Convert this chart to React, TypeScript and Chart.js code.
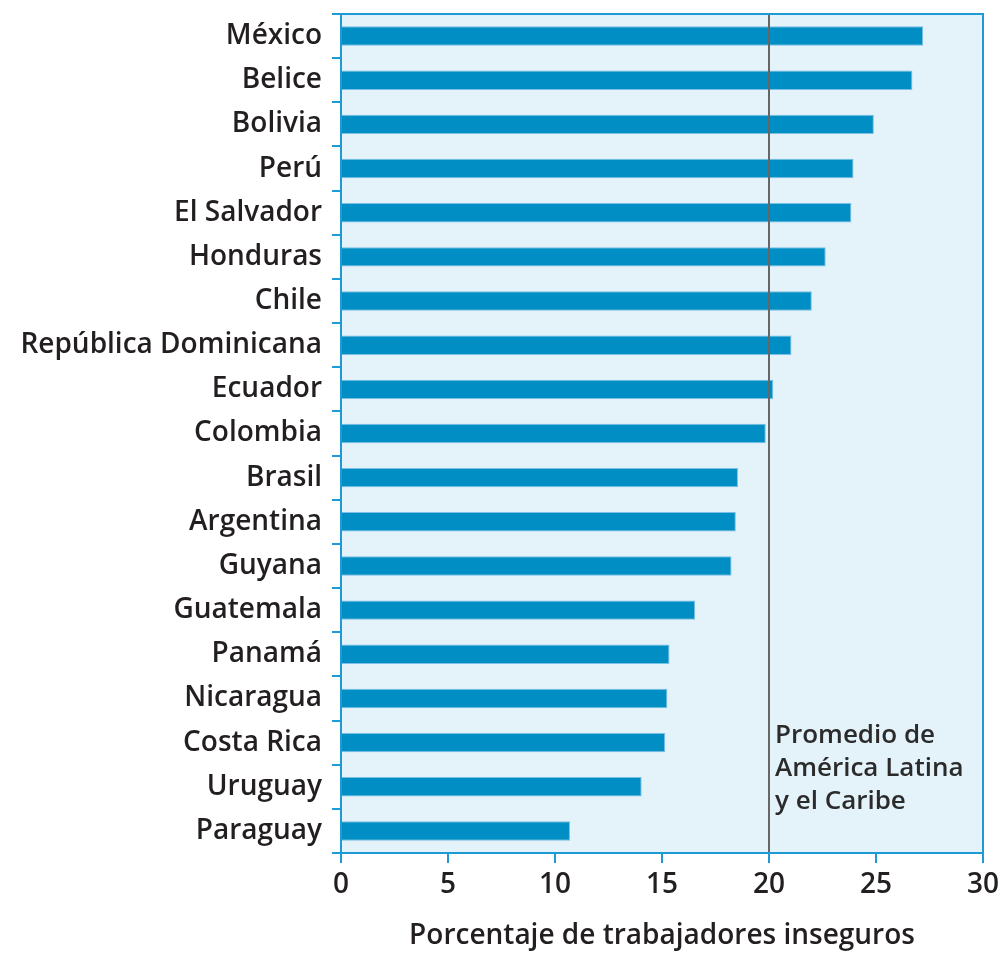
import React, { useEffect, useRef } from "react";
import { Chart, registerables } from "chart.js";

Chart.register(...registerables);

const countries = [
  "México",
  "Belice",
  "Bolivia",
  "Perú",
  "El Salvador",
  "Honduras",
  "Chile",
  "República Dominicana",
  "Ecuador",
  "Colombia",
  "Brasil",
  "Argentina",
  "Guyana",
  "Guatemala",
  "Panamá",
  "Nicaragua",
  "Costa Rica",
  "Uruguay",
  "Paraguay",
];

const insecureShare = [
  27.2, 26.7, 24.9, 23.95, 23.85, 22.65, 22.0, 21.05, 20.2, 19.85, 18.55, 18.45,
  18.25, 16.55, 15.35, 15.25, 15.15, 14.05, 10.7,
];

const regionalAverage = 20;
const xTickValues = [0, 5, 10, 15, 20, 25, 30];
const averageLabelLines = ["Promedio de", "América Latina", "y el Caribe"];
const xAxisTitle = "Porcentaje de trabajadores inseguros";

const FONT = "'Open Sans', 'DejaVu Sans', sans-serif";
const BLUE_AXIS = "#1E9AD6";
const TEXT = "#231F20";

function zeroPadding(scale: any) {
  scale.paddingTop = 0;
  scale.paddingBottom = 0;
  scale.paddingLeft = 0;
  scale.paddingRight = 0;
}

const decorPlugin = {
  id: "decor",
  beforeDraw(chart: any) {
    const { ctx, chartArea } = chart;
    const { left, top, right, bottom } = chartArea;
    ctx.save();
    ctx.fillStyle = "#E4F2FA";
    ctx.fillRect(left, top, right - left, bottom - top);
    ctx.restore();
  },
  afterDatasetsDraw(chart: any) {
    const { ctx, chartArea, scales } = chart;
    const { left, top, right, bottom } = chartArea;
    const xAvg = scales.x.getPixelForValue(regionalAverage);
    ctx.save();
    ctx.strokeStyle = "#666666";
    ctx.lineWidth = 2;
    ctx.beginPath();
    ctx.moveTo(xAvg, top);
    ctx.lineTo(xAvg, bottom);
    ctx.stroke();

    ctx.fillStyle = "#2b2b2b";
    ctx.font = `600 26px ${FONT}`;
    ctx.textAlign = "left";
    ctx.textBaseline = "alphabetic";
    averageLabelLines.forEach((line, i) => {
      ctx.fillText(line, xAvg + 6, 743 + i * 33);
    });

    ctx.strokeStyle = BLUE_AXIS;
    ctx.lineWidth = 2;
    ctx.strokeRect(left, top, right - left, bottom - top);
    ctx.restore();
  },
};

export default function App() {
  const canvasRef = useRef<HTMLCanvasElement | null>(null);

  useEffect(() => {
    if (!canvasRef.current) return;
    const chart = new Chart(canvasRef.current, {
      type: "bar",
      data: {
        labels: countries,
        datasets: [
          {
            data: insecureShare,
            backgroundColor: "#008EC4",
            borderColor: "rgba(110,185,225,0.9)",
            borderWidth: 1,
            barPercentage: 0.44,
            categoryPercentage: 1,
          },
        ],
      },
      options: {
        indexAxis: "y",
        animation: false,
        responsive: false,
        maintainAspectRatio: false,
        layout: { autoPadding: false, padding: { top: 14, right: 18, bottom: 0, left: 0 } },
        plugins: {
          legend: { display: false },
          tooltip: { enabled: false },
        },
        scales: {
          y: {
            type: "category",
            afterFit(scale: any) {
              scale.width = 341;
              zeroPadding(scale);
            },
            grid: {
              display: true,
              drawOnChartArea: false,
              drawTicks: true,
              tickLength: 9,
              color: BLUE_AXIS,
              lineWidth: 2,
              offset: true,
            },
            border: { display: true, color: BLUE_AXIS, width: 2 },
            ticks: {
              color: TEXT,
              font: { family: FONT, size: 28, weight: "600" },
              padding: 10,
              autoSkip: false,
            },
          },
          x: {
            type: "linear",
            min: 0,
            max: 30,
            afterFit(scale: any) {
              scale.height = 100;
              zeroPadding(scale);
            },
            afterBuildTicks(scale: any) {
              scale.ticks = xTickValues.map((v) => ({ value: v }));
            },
            grid: {
              display: true,
              drawOnChartArea: false,
              drawTicks: true,
              tickLength: 10,
              color: BLUE_AXIS,
              lineWidth: 2,
            },
            border: { display: true, color: BLUE_AXIS, width: 2 },
            ticks: {
              color: TEXT,
              font: { family: FONT, size: 28, weight: "600" },
              padding: 5,
              maxRotation: 0,
            },
            title: {
              display: true,
              text: xAxisTitle,
              color: TEXT,
              font: { family: FONT, size: 28, weight: "600" },
              padding: { top: 0, bottom: 0 },
            },
          },
        },
      },
      plugins: [decorPlugin],
    } as any);
    return () => chart.destroy();
  }, []);

  return (
    <div
      style={{
        position: "absolute",
        left: 0,
        top: 0,
        width: 1001,
        height: 953,
        background: "#ffffff",
      }}
    >
      <canvas ref={canvasRef} width={1001} height={953} style={{ display: "block" }} />
    </div>
  );
}
